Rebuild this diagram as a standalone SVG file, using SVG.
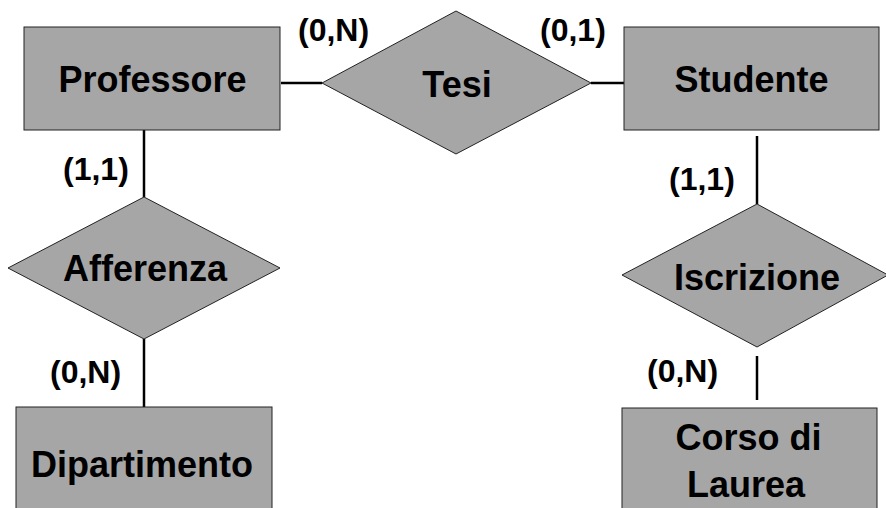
<svg xmlns="http://www.w3.org/2000/svg" width="886" height="508" viewBox="0 0 886 508">
<style>
.ent{fill:#a6a6a6;stroke:#222;stroke-width:1}
.rel{fill:#a6a6a6;stroke:#222;stroke-width:1}
.t{font-family:"Liberation Sans",Arial,sans-serif;font-weight:bold;font-size:36px;fill:#000;text-anchor:middle}
.c{font-family:"Liberation Sans",Arial,sans-serif;font-weight:bold;font-size:32px;fill:#000}
.ln{stroke:#000;stroke-width:2.5;fill:none}
</style>
<rect width="886" height="508" fill="#fff"/>
<g id="connectors">
<line class="ln" x1="281" y1="83" x2="322" y2="83"/>
<line class="ln" x1="591" y1="83" x2="624" y2="83"/>
<line class="ln" x1="144" y1="128" x2="144" y2="197"/>
<line class="ln" x1="144" y1="339" x2="144" y2="407"/>
<line class="ln" x1="757" y1="136" x2="757" y2="204"/>
<line class="ln" x1="757" y1="356" x2="757" y2="400"/>
<text class="c" x="298" y="41">(0,N)</text>
<text class="c" x="540" y="41">(0,1)</text>
<text class="c" x="63" y="180">(1,1)</text>
<text class="c" x="669" y="190">(1,1)</text>
<text class="c" x="50" y="383">(0,N)</text>
<text class="c" x="647" y="382">(0,N)</text>
</g>
<g id="professore">
<rect class="ent" x="24" y="27" width="256" height="103"/>
<text class="t" x="152.5" y="92">Professore</text>
</g>
<g id="tesi">
<polygon class="rel" points="456,11 591,83 456,154 322,83"/>
<text class="t" x="457" y="97">Tesi</text>
</g>
<g id="studente">
<rect class="ent" x="624" y="27" width="255" height="103"/>
<text class="t" x="751.5" y="92">Studente</text>
</g>
<g id="afferenza">
<polygon class="rel" points="144,197 280,268 144,339 8,268"/>
<text class="t" x="145" y="281">Afferenza</text>
</g>
<g id="dipartimento">
<rect class="ent" x="16" y="407" width="256" height="110"/>
<text class="t" x="142" y="477">Dipartimento</text>
</g>
<g id="iscrizione">
<polygon class="rel" points="757,204 888,275 757,347 622,275"/>
<text class="t" x="757" y="290">Iscrizione</text>
</g>
<g id="corso">
<rect class="ent" x="622" y="408" width="255" height="110"/>
<text class="t" x="748.5" y="450">Corso di</text>
<text class="t" x="746" y="497">Laurea</text>
</g>
</svg>
